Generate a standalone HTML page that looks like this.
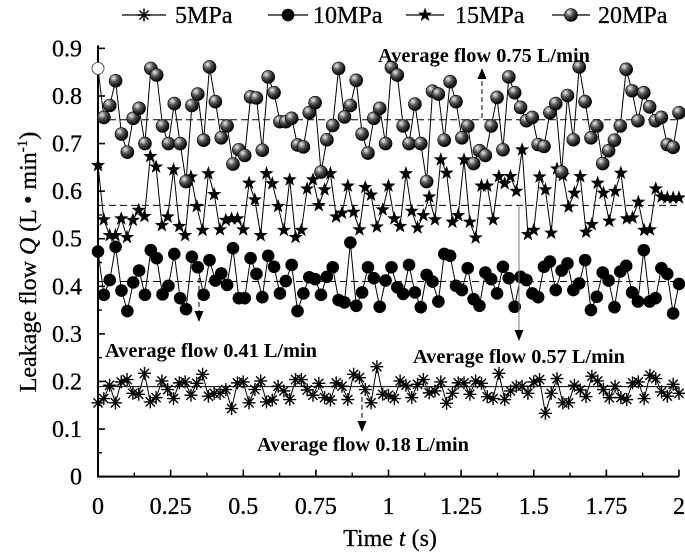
<!DOCTYPE html>
<html><head><meta charset="utf-8"><style>
html,body{margin:0;padding:0;background:#fff;}
svg{display:block;font-family:"Liberation Serif",serif;}
</style></head><body>
<svg id="chart" width="685" height="552" viewBox="0 0 685 552" xmlns="http://www.w3.org/2000/svg">
<defs>
<radialGradient id="ball" cx="35%" cy="30%" r="70%">
<stop offset="0" stop-color="#f0f0f0"/><stop offset="0.45" stop-color="#555"/><stop offset="1" stop-color="#000"/>
</radialGradient>
</defs>
<g id="plot"></g>
</svg>
<script>
const xTicks = [0,0.25,0.5,0.75,1,1.25,1.5,1.75,2];
const xTickLabels = ["0","0.25","0.5","0.75","1","1.25","1.5","1.75","2"];
const yTicks = [0,0.1,0.2,0.3,0.4,0.5,0.6,0.7,0.8,0.9];
const yTickLabels = ["0","0.1","0.2","0.3","0.4","0.5","0.6","0.7","0.8","0.9"];
const seriesNames = ["5MPa","10MPa","15MPa","20MPa"];
const averages = [0.189,0.41,0.57,0.75];
const s20 = [0.858,0.755,0.78,0.832,0.72,0.682,0.753,0.774,0.70,0.858,0.844,0.737,0.70,0.784,0.70,0.62,0.78,0.804,0.707,0.861,0.788,0.712,0.737,0.657,0.687,0.675,0.798,0.796,0.686,0.84,0.807,0.746,0.746,0.753,0.697,0.693,0.765,0.786,0.64,0.708,0.738,
0.858,0.756,0.78,0.833,0.72,0.68,0.753,0.774,0.70,0.86,0.844,0.737,0.70,0.783,0.70,0.62,0.81,0.804,0.707,0.83,0.788,0.712,0.737,0.658,0.685,0.675,0.737,0.797,0.687,0.84,0.807,0.776,0.748,0.755,0.698,0.694,0.765,0.784,0.64,0.801,0.708,0.861,0.788,0.712,0.737,0.658,0.685,0.707,0.737,0.856,0.811,0.748,0.807,0.777,0.748,0.755,0.698,0.692,0.765];
const s15 = [0.654,0.54,0.507,0.507,0.542,0.503,0.539,0.56,0.547,0.673,0.651,0.528,0.546,0.645,0.526,0.507,0.63,0.568,0.518,0.637,0.593,0.519,0.539,0.542,0.542,0.519,0.617,0.582,0.507,0.637,0.616,0.568,0.518,0.624,0.503,0.518,0.605,0.624,0.57,0.603,0.637,
0.546,0.554,0.611,0.556,0.519,0.608,0.592,0.525,0.561,0.611,0.542,0.526,0.637,0.558,0.523,0.549,0.588,0.54,0.666,0.638,0.535,0.549,0.666,0.535,0.502,0.611,0.611,0.54,0.631,0.616,0.631,0.6,0.687,0.509,0.518,0.63,0.603,0.512,0.647,0.633,0.567,0.596,0.631,0.514,0.53,0.617,0.596,0.537,0.6,0.638,0.542,0.544,0.577,0.518,0.519,0.605,0.588,0.586,0.586,0.586];
const s10 = [0.473,0.382,0.413,0.483,0.391,0.348,0.408,0.433,0.382,0.476,0.459,0.383,0.401,0.468,0.375,0.352,0.462,0.44,0.382,0.455,0.412,0.427,0.403,0.48,0.375,0.375,0.459,0.426,0.377,0.464,0.441,0.385,0.411,0.445,0.348,0.385,0.419,0.415,0.382,0.42,0.44,0.371,0.366,0.492,0.359,0.387,0.44,0.417,0.357,0.412,0.44,
0.398,0.384,0.445,0.387,0.356,0.424,0.41,0.368,0.468,0.464,0.401,0.392,0.438,0.373,0.359,0.429,0.415,0.385,0.441,0.417,0.357,0.42,0.413,0.385,0.377,0.441,0.452,0.392,0.433,0.448,0.392,0.406,0.455,0.35,0.378,0.429,0.412,0.356,0.431,0.443,0.387,0.368,0.476,0.368,0.375,0.438,0.426,0.343,0.405];
const s5 = [0.155,0.164,0.192,0.155,0.199,0.204,0.175,0.173,0.217,0.157,0.166,0.201,0.183,0.164,0.197,0.199,0.171,0.196,0.215,0.169,0.175,0.175,0.183,0.143,0.197,0.199,0.155,0.183,0.201,0.157,0.161,0.19,0.18,0.162,0.204,0.204,0.182,0.171,0.196,0.166,0.161,0.197,0.19,0.162,0.215,0.208,0.183,0.155,0.231,0.173,
0.171,0.164,0.201,0.192,0.166,0.194,0.204,0.176,0.18,0.199,0.154,0.175,0.197,0.197,0.173,0.201,0.196,0.168,0.164,0.217,0.162,0.18,0.19,0.19,0.175,0.199,0.204,0.133,0.175,0.206,0.155,0.155,0.192,0.182,0.168,0.211,0.201,0.183,0.166,0.19,0.166,0.162,0.197,0.199,0.164,0.213,0.206,0.178,0.169,0.194,0.175];

const NS="http://www.w3.org/2000/svg";
const X0=98,X1=679,Y0=476.6,YTOP=48.4;
const xs=v=>X0+(v/2)*(X1-X0);
const ys=v=>Y0-(v/0.9)*(Y0-YTOP);
const g=document.getElementById('plot');
function mk(tag,attrs,parent){const e=document.createElementNS(NS,tag);for(const k in attrs)e.setAttribute(k,attrs[k]);(parent||g).appendChild(e);return e;}

// axes
let ax=mk('path',{d:`M${X0},${YTOP-3}V${Y0}H${X1}`,stroke:'#000','stroke-width':2,fill:'none'});


for(let i=0;i<xTicks.length;i++){
  const x=xs(xTicks[i]);
  let t=mk('line',{x1:x,x2:x,y1:Y0,y2:Y0-7,stroke:'#000','stroke-width':1.6});
  
  
  if(i<xTicks.length-1){const xm=xs((xTicks[i]+xTicks[i+1])/2);mk('line',{x1:xm,x2:xm,y1:Y0,y2:Y0-4,stroke:'#000','stroke-width':1.4});}
  let l=mk('text',{x:x,y:514,'text-anchor':'middle','font-size':24,stroke:'#000','stroke-width':0.3});
  l.textContent=xTickLabels[i];
  
  
}
for(let i=0;i<yTicks.length;i++){
  const y=ys(yTicks[i]);
  let t=mk('line',{x1:X0,x2:X0+7,y1:y,y2:y,stroke:'#000','stroke-width':1.6});
  
  
  if(i<yTicks.length-1){const ym=ys((yTicks[i]+yTicks[i+1])/2);mk('line',{x1:X0,x2:X0+4,y1:ym,y2:ym,stroke:'#000','stroke-width':1.4});}
  let l=mk('text',{x:82,y:y+8,'text-anchor':'end','font-size':24,stroke:'#000','stroke-width':0.3});
  l.textContent=yTickLabels[i];
  
  
}
let xt=mk('text',{x:390,y:546,'text-anchor':'middle','font-size':24,stroke:'#000','stroke-width':0.3});
xt.innerHTML='Time <tspan font-style="italic">t</tspan> (s)';


let yt=mk('text',{x:0,y:0,'text-anchor':'middle','font-size':24,stroke:'#000','stroke-width':0.3,transform:'translate(36,262) rotate(-90)'});
yt.innerHTML='Leakage flow <tspan font-style="italic">Q</tspan> (L • min<tspan font-size="15" dy="-9">-1</tspan><tspan dy="9">)</tspan>';



// average lines
averages.forEach((a,i)=>{
  let l=mk('line',{x1:X0,x2:X1,y1:ys(a),y2:ys(a),stroke:'#000','stroke-width':1,'stroke-dasharray':i===0?'none':'7,4'});
  
  
});

// markers
function marker(kind,x,y,parent,hollow){
  if(kind===0){
    let p='';for(let k=0;k<4;k++){const a=k*Math.PI/4;const dx=6.5*Math.cos(a),dy=6.5*Math.sin(a);p+=`M${x-dx},${y-dy}L${x+dx},${y+dy}`;}
    return mk('path',{d:p,stroke:'#000','stroke-width':1.4,fill:'none'},parent);
  } else if(kind===1){
    return mk('circle',{cx:x,cy:y,r:6.3,fill:'#000'},parent);
  } else if(kind===2){
    let p='';for(let k=0;k<10;k++){const r=k%2?3:7.5;const a=-Math.PI/2+k*Math.PI/5;p+=(k?'L':'M')+(x+r*Math.cos(a)).toFixed(2)+','+(y+r*Math.sin(a)).toFixed(2);}
    return mk('path',{d:p+'Z',fill:'#000'},parent);
  } else {
    if(hollow) return mk('circle',{cx:x,cy:y,r:6,fill:'#fff',stroke:'#555','stroke-width':1},parent);
    return mk('circle',{cx:x,cy:y,r:6.5,fill:'url(#ball)',stroke:'#000','stroke-width':0.6},parent);
  }
}
const allSeries=[s5,s10,s15,s20];
allSeries.forEach((s,si)=>{
  const grp=mk('g',{});
  
  
  const n=s.length;
  const pts=s.map((v,i)=>[xs(2*i/(n-1)),ys(v)]);
  let ln=mk('polyline',{points:pts.map(p=>p.join(',')).join(' '),fill:'none',stroke:'#000','stroke-width':1},grp);
  
  
  pts.forEach((p,i)=>{
    const m=marker(si,p[0],p[1],grp,si===3&&i===0);
    
    
  });
});

// legend
const legX=[[122,166,175],[268,308,313],[406,444,455],[552,590,598]];
seriesNames.forEach((nm,i)=>{
  const lg=mk('g',{});
  
  
  const [a,b,tx]=legX[i];
  mk('line',{x1:a,x2:b,y1:15,y2:15,stroke:'#000','stroke-width':1.2},lg);
  marker(i,(a+b)/2,15,lg,false);
  const t=mk('text',{x:tx,y:23,'font-size':24,stroke:'#000','stroke-width':0.3},lg);t.textContent=nm;
});

// annotations
function ann(name,text,tx,ty,ax1,ay1,ax2,ay2,dashed){
  const ag=mk('g',{});
  
  
  const dir=ay2>ay1?1:-1;
  mk('line',{x1:ax1,y1:ay1,x2:ax2,y2:ay2-dir*10,stroke:dashed?'#000':'#777','stroke-width':1,'stroke-dasharray':dashed?'5,3':'none'},ag);
  mk('path',{d:`M${ax2-4.5},${ay2-dir*11}L${ax2+4.5},${ay2-dir*11}L${ax2},${ay2}Z`,fill:'#000'},ag);
  const t=mk('text',{x:tx,y:ty,'font-size':20,'font-weight':'bold',textLength:212,lengthAdjust:'spacingAndGlyphs'},ag);t.textContent=text;
}
ann('annotation-avg-20mpa','Average flow 0.75 L/min',378,62,482,118,482,68,true);
ann('annotation-avg-10mpa','Average flow 0.41 L/min',105,357,199,278,199,322,true);
ann('annotation-avg-15mpa','Average flow 0.57 L/min',413,363,519,205,519,341,false);
ann('annotation-avg-5mpa','Average flow 0.18 L/min',257,451,362,397,362,432,true);
</script>
</body></html>
